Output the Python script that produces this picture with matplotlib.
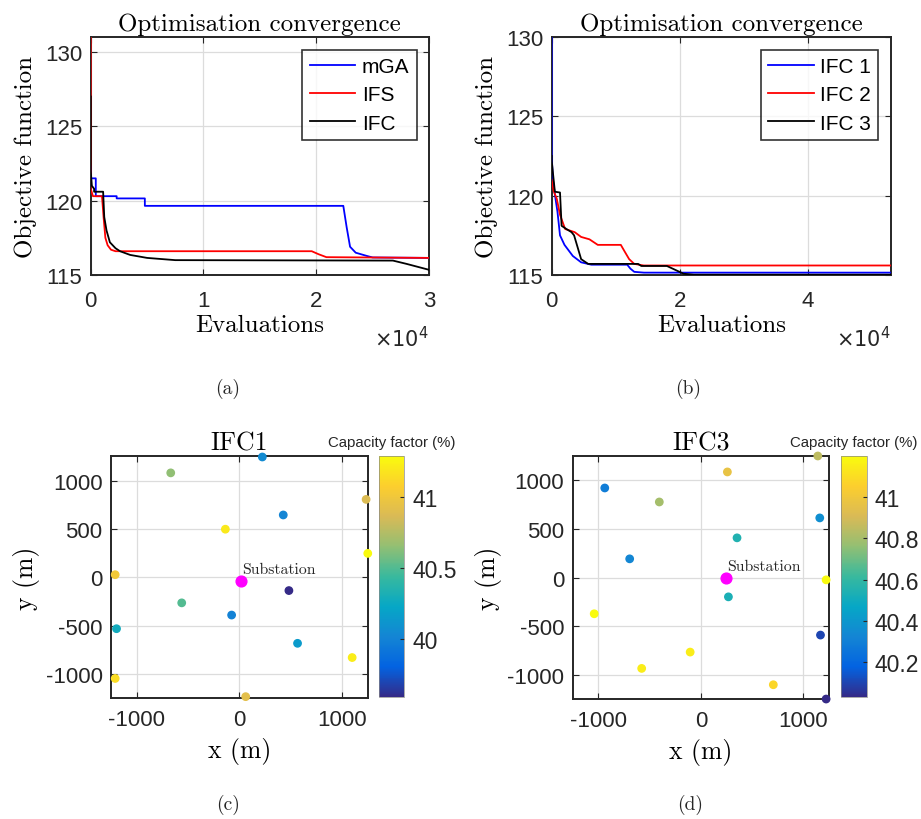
import numpy as np
import matplotlib
matplotlib.use("Agg")
import matplotlib.pyplot as plt
from matplotlib.colors import LinearSegmentedColormap
from matplotlib.ticker import FuncFormatter, FormatStrFormatter

# --- convergence data (a) ---
mga_x = [0, 0, 450, 450, 2300, 2300, 4800, 4800, 22400, 22700, 23000, 23500, 24500, 25000, 30000]
mga_y = [122.3, 121.5, 121.5, 120.3, 120.3, 120.15, 120.15, 119.65, 119.65, 118.2, 116.9, 116.5, 116.28, 116.18, 116.15]
ifs_x = [0, 0, 200, 1000, 1150, 1300, 1500, 1800, 2200, 19600, 20200, 20900, 30000]
ifs_y = [131, 120.8, 120.3, 120.3, 118.8, 117.5, 117.0, 116.7, 116.6, 116.6, 116.4, 116.2, 116.15]
ifc_x = [0, 0, 100, 300, 300, 1100, 1200, 1400, 1700, 2200, 2600, 3500, 5000, 7500, 26800, 28000, 29500, 30000]
ifc_y = [127, 122, 121.0, 120.8, 120.6, 120.6, 118.9, 118.0, 117.2, 116.8, 116.6, 116.35, 116.15, 116.0, 115.97, 115.75, 115.45, 115.35]

# --- convergence data (b) ---
ifc1_x = [0, 0, 200, 600, 900, 1300, 2000, 3300, 4600, 6200, 11800, 12300, 12900, 14400, 53000]
ifc1_y = [130, 122.5, 121.0, 119.8, 119.0, 117.5, 116.9, 116.2, 115.8, 115.65, 115.65, 115.4, 115.2, 115.15, 115.15]
ifc2_x = [0, 300, 800, 1300, 2100, 3600, 4600, 5900, 7200, 10800, 11300, 12100, 12900, 14400, 17000, 53000]
ifc2_y = [121.0, 120.3, 119.8, 118.8, 117.9, 117.7, 117.4, 117.25, 116.9, 116.9, 116.55, 116.0, 115.7, 115.6, 115.6, 115.6]
ifc3_x = [0, 0, 500, 1300, 1550, 2300, 3100, 3500, 4600, 5700, 13500, 14000, 18000, 20600, 22200, 53000]
ifc3_y = [122.5, 122.2, 120.25, 120.2, 118.1, 117.9, 117.7, 117.5, 116.0, 115.7, 115.7, 115.57, 115.57, 115.08, 115.02, 115.02]

# --- layouts (c) IFC1 ---
l1_x = [224, -668, 1235, 428, -136, 1251, -1209, 483, -561, -75, -1196, 567, 1099, -1209, 62]
l1_y = [1243, 1079, 805, 644, 497, 247, 27, -137, -264, -390, -531, -682, -829, -1045, -1233]
l1_cf = [40.05, 40.65, 40.88, 40.02, 41.2, 41.29, 41.02, 39.59, 40.5, 40.0, 40.28, 40.15, 41.22, 41.15, 40.92]
sub1 = (19, -38)

# --- layouts (d) IFC3 ---
l3_x = [1141, 259, -937, -405, 1160, 353, -694, 1222, 269, -1040, 1167, -104, -577, 707, 1222]
l3_y = [1250, 1086, 921, 777, 613, 408, 192, -24, -199, -373, -592, -767, -935, -1103, -1250]
l3_cf = [40.85, 40.97, 40.29, 40.8, 40.36, 40.55, 40.33, 41.2, 40.53, 41.2, 40.1, 41.15, 41.15, 41.08, 40.03]
sub3 = (246, -3)

parula = LinearSegmentedColormap.from_list(
    "parula", ['#352a87', '#0363e1', '#1485d4', '#06a7c6', '#38b99e',
               '#92bf73', '#d9ba56', '#fcce2e', '#f9fb0e'])

plt.rcParams['axes.unicode_minus'] = False
SERIF = 'cmr10'
SANS = 'Liberation Sans'
TXT = '#262626'

fig = plt.figure(figsize=(9.21, 8.2), dpi=100)


def style_axes(ax, tick_size, xpad):
    ax.tick_params(direction='in', top=True, right=True, length=4, width=0.8,
                   labelsize=tick_size, colors=TXT)
    ax.tick_params(axis='x', pad=xpad)
    ax.tick_params(axis='y', pad=6)
    for lab in ax.get_xticklabels() + ax.get_yticklabels():
        lab.set_fontfamily(SANS)
    for s in ax.spines.values():
        s.set_linewidth(1.4)
        s.set_color('#262626')
    ax.grid(True, color='#dcdcdc', linewidth=0.9)
    ax.set_axisbelow(True)


def conv_panel(rect, series, xmax, xticks, ymax):
    ax = fig.add_axes(rect)
    for x, y, c, lab in series:
        ax.plot(x, y, color=c, lw=1.3, label=lab, zorder=3)
    ax.set_xlim(0, xmax)
    ax.set_ylim(115, ymax)
    ax.set_xticks(xticks)
    ax.set_yticks([115, 120, 125, 130])
    ax.xaxis.set_major_formatter(FuncFormatter(lambda v, p: f"{v / 1e4:g}"))
    style_axes(ax, 16, 11)
    ax.set_title('Optimisation convergence', fontfamily=SERIF, fontsize=18, pad=5)
    ax.set_xlabel('Evaluations', fontfamily=SERIF, fontsize=18, labelpad=2)
    ax.set_ylabel('Objective function', fontfamily=SERIF, fontsize=18, labelpad=6)
    ax.text(1.0, -0.265, r'$\times10^4$', transform=ax.transAxes, ha='right',
            va='center', fontsize=15, color=TXT)
    leg = ax.legend(loc='upper right', fancybox=False, edgecolor='black',
                    prop={'family': SANS, 'size': 15}, handlelength=2.2,
                    borderpad=0.35, labelspacing=0.45, handletextpad=0.3,
                    borderaxespad=0.6)
    leg.get_frame().set_linewidth(1.2)
    leg.set_zorder(5)
    return ax


conv_panel([0.0985, 0.6634, 0.3673, 0.2902],
           [(mga_x, mga_y, 'blue', 'mGA'), (ifs_x, ifs_y, 'red', 'IFS'),
            (ifc_x, ifc_y, 'black', 'IFC')],
           30000, [0, 10000, 20000, 30000], 131)
conv_panel([0.599, 0.6634, 0.3684, 0.2902],
           [(ifc1_x, ifc1_y, 'blue', 'IFC 1'), (ifc2_x, ifc2_y, 'red', 'IFC 2'),
            (ifc3_x, ifc3_y, 'black', 'IFC 3')],
           53000, [0, 20000, 40000], 130)


def layout_panel(rect, cbrect, xs, ys, cf, sub, title, cticks):
    ax = fig.add_axes(rect)
    sc = ax.scatter(xs, ys, c=cf, cmap=parula, s=28, zorder=3, clip_on=False)
    ax.scatter([sub[0]], [sub[1]], color='#ff00ff', s=60, zorder=4, clip_on=False)
    ax.text(sub[0] + 10, sub[1] + 125, 'Substation', fontfamily=SERIF,
            fontsize=11.3, va='center', ha='left', color='#262626')
    ax.set_xlim(-1250, 1250)
    ax.set_ylim(-1250, 1250)
    ax.set_xticks([-1000, 0, 1000])
    ax.set_yticks([-1000, -500, 0, 500, 1000])
    style_axes(ax, 16, 8)
    ax.set_title(title, fontfamily=SERIF, fontsize=18.5, pad=5)
    ax.set_xlabel('x (m)', fontfamily=SERIF, fontsize=18.5, labelpad=5)
    ax.set_ylabel('y (m)', fontfamily=SERIF, fontsize=18.5, labelpad=4)
    cax = fig.add_axes(cbrect)
    cb = fig.colorbar(sc, cax=cax, ticks=cticks, format=FormatStrFormatter('%g'))
    cb.outline.set_linewidth(0.5)
    cb.outline.set_edgecolor('#888888')
    cax.tick_params(direction='in', length=3, labelsize=16.5, colors=TXT, pad=6)
    for lab in cax.get_yticklabels():
        lab.set_fontfamily(SANS)
    cax.set_title('Capacity factor (%)', fontfamily=SANS, fontsize=10.8,
                  color=TXT, pad=7)
    return ax


layout_panel([0.1205, 0.1472, 0.2787, 0.2951], [0.4118, 0.1484, 0.0268, 0.2943],
             l1_x, l1_y, l1_cf, sub1, 'IFC1', [40, 40.5, 41])
layout_panel([0.6218, 0.1463, 0.2783, 0.2964], [0.9131, 0.1484, 0.0279, 0.2943],
             l3_x, l3_y, l3_cf, sub3, 'IFC3', [40.2, 40.4, 40.6, 40.8, 41])

for lab, px, py in [('(a)', 228, 389), ('(b)', 688, 389), ('(c)', 228, 805), ('(d)', 690, 805)]:
    fig.text(px / 921, 1 - py / 820, lab, ha='center', va='center',
             fontfamily=SERIF, fontsize=14, color='#262626')

fig.savefig('out.png', dpi=100)
